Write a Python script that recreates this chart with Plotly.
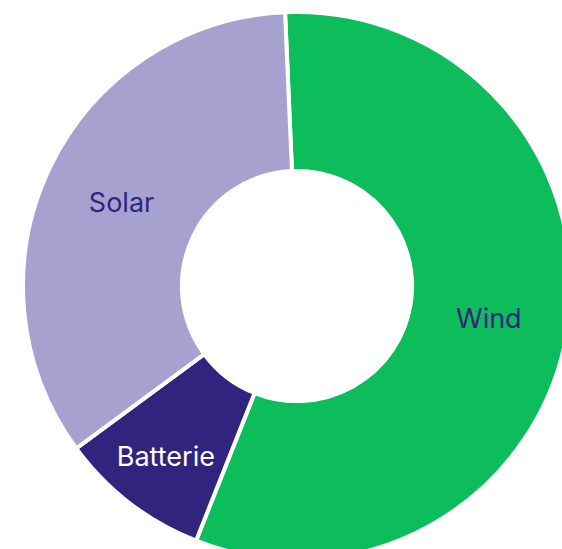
import plotly.graph_objects as go

labels = ["Wind", "Batterie", "Solar"]
values = [56.7, 8.9, 34.4]
colors = ["#0DBC5A", "#30247F", "#A7A1CF"]
text_colors = ["#30247F", "#FFFFFF", "#30247F"]

W, H = 594, 572
cx, cy, r = 297, 286, 274

fig = go.Figure(go.Pie(
    labels=labels,
    values=values,
    sort=False,
    direction="clockwise",
    rotation=-2.5,
    hole=0.42,
    marker=dict(colors=colors, line=dict(color="#FFFFFF", width=4)),
    textinfo="label",
    textposition="inside",
    insidetextorientation="horizontal",
    insidetextfont=dict(color=text_colors, size=27, family="Inter"),
    domain=dict(x=[(cx - r) / W, (cx + r) / W], y=[(H - cy - r) / H, (H - cy + r) / H]),
    showlegend=False,
))
fig.update_layout(
    width=W, height=H,
    margin=dict(l=0, r=0, t=0, b=0),
    paper_bgcolor="#FFFFFF",
    font=dict(family="Inter"),
)
fig.write_html(
    "out.html",
    config={"displayModeBar": False},
    post_script="document.body.style.margin='0';document.body.style.overflow='hidden';document.documentElement.style.overflow='hidden';",
)
